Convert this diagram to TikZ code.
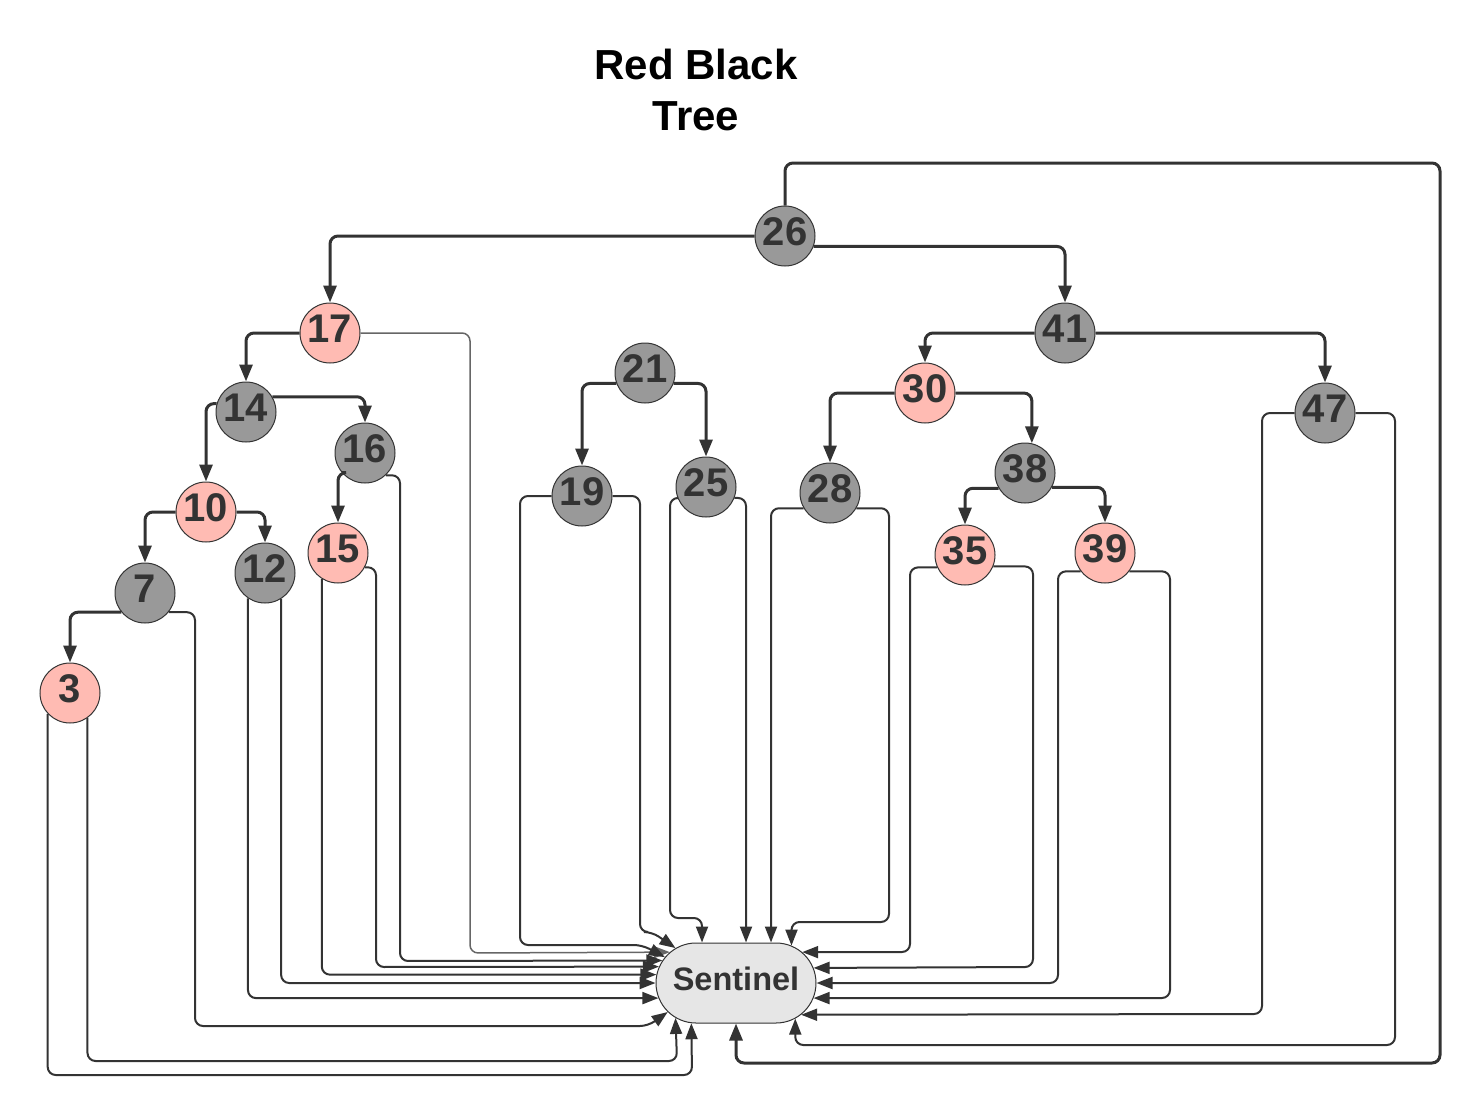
\documentclass[tikz,border=0pt]{standalone}
\usepackage{fontspec}
\setmainfont{Liberation Sans}
\usetikzlibrary{arrows.meta,shapes.misc,calc}
\definecolor{ink}{HTML}{333333}
\definecolor{gnode}{HTML}{999999}
\definecolor{rnode}{HTML}{FFBBB3}
\definecolor{sent}{HTML}{E6E6E6}
\definecolor{thinln}{HTML}{666666}
\begin{document}
\begin{tikzpicture}[x=1pt,y=-1pt,
  nd/.style={circle,draw=ink,line width=1pt,minimum size=60pt,inner sep=0pt,text=ink,
    font=\fontsize{40}{40}\selectfont\bfseries,text height=28pt,text depth=9pt},
  gn/.style={nd,fill=gnode},
  rn/.style={nd,fill=rnode},
  tedge/.style={draw=ink,line width=3pt,rounded corners=8pt,-{Triangle[length=17pt,width=13pt]}},
  ledge/.style={draw=ink,line width=2pt,rounded corners=8pt,-{Triangle[length=16pt,width=12pt]}},
  ttl/.style={align=center,text=black,font=\fontsize{42}{51}\selectfont\bfseries}
]
\useasboundingbox (0,0) rectangle (1480,1116);

\node[ttl] (title) at (696,90) {Red Black\\Tree};

\node[rounded rectangle,draw=ink,line width=1pt,fill=sent,minimum width=160pt,minimum height=80pt,
  inner sep=0pt,text=ink,font=\fontsize{32.5}{32.5}\selectfont\bfseries,text height=23pt,text depth=8pt]
  (S) at (736,983) {\makebox[0pt]{Sentinel}};

\node[gn] (n26) at (785,236) {26};
\node[rn] (n17) at (330,333) {17};
\node[gn] (n41) at (1065,333) {41};
\node[gn] (n14) at (246,412) {14};
\node[gn] (n16) at (365,453) {16};
\node[rn] (n10) at (206,512) {10};
\node[gn] (n12) at (265,573) {12};
\node[rn] (n15) at (338,553) {15};
\node[gn] (n7) at (145,593) {7};
\node[rn] (n3) at (70,693) {3};
\node[gn] (n21) at (645,373) {21};
\node[gn] (n19) at (582,496) {19};
\node[gn] (n25) at (706,487) {25};
\node[gn] (n28) at (830,493) {28};
\node[rn] (n30) at (925,393) {30};
\node[gn] (n38) at (1025,473) {38};
\node[rn] (n35) at (965,555) {35};
\node[rn] (n39) at (1105,553) {39};
\node[gn] (n47) at (1325,413) {47};

% tree edges
\draw[tedge] (n26.west) -| (n17.north);
\draw[tedge] (n26.340) -| (n41.north);
\draw[tedge] (n17.west) -| (n14.north);
\draw[tedge] (n14.164) -| (n10.north);
\draw[tedge] (n14.30) -| (n16.north);
\draw[tedge] (n10.west) -| (n7.north);
\draw[tedge] (n10.east) -| (n12.north);
\draw[tedge] (n16.220) -| (n15.north);
\draw[tedge] (n7.219) -| (n3.north);
\draw[tedge] (n21.200) -| (n19.north);
\draw[tedge] (n21.340) -| (n25.north);
\draw[tedge] (n41.west) -| (n30.north);
\draw[tedge] (n41.east) -| (n47.north);
\draw[tedge] (n30.west) -| (n28.north);
\draw[tedge] (n30.east) -| (n38.77);
\draw[tedge] (n38.210) -| (n35.north);
\draw[tedge] (n38.332) -| (n39.north);
\draw[tedge] (n26.north) |- (1440,163) -- (1440,1063) -| (S.south);

% sentinel links, left
\draw[ledge,draw=thinln,line width=1.5pt] (n17.east) -| (470,953) -- (S.155.7);
\draw[ledge] (n16.313) -| (400,961) -- (S.163.3);
\draw[ledge] (n15.332) -| (376,967) -- (S.168.2);
\draw[ledge] (n15.238) |- (S.174.2);
\draw[ledge] (n12.302) |- (S.180);
\draw[ledge] (n12.236) |- (S.191.8);
\draw[ledge] (n7.321) -| (195,1026) -- (648,1026) -- (S.203);
\draw[ledge] (n3.223) |- (692,1075) -- (S.222.1);
\draw[ledge] (n3.305) |- (677,1061) -- (S.210.8);
% middle
\draw[ledge] (n19.west) -| (520,945) -- (642,945) -- (S.160);
\draw[ledge] (n19.east) -| (640,932) -- (652,932) -- (S.150);
\draw[ledge] (n25.201) -| (670,918) -| ($(S.north)+(-34,0)$);
\draw[ledge] (n25.339) -| ($(S.north)+(10,0)$);
\draw[ledge] (n28.210) -| ($(S.north)+(35,0)$);
\draw[ledge] (n28.330) -| (889,922) -| (S.34);
% right
\draw[ledge] (n35.204) -| (910,952) -- (S.25.4);
\draw[ledge] (n35.338) -| (1033,967) -- (S.11.8);
\draw[ledge] (n39.217) -| (1058,983) -- (S.0);
\draw[ledge] (n39.323) -| (1170,998) -- (S.349);
\draw[ledge] (n47.west) -| (1262,1014) -- (S.334.6);
\draw[ledge] (n47.east) -| (1395,1045) -| (S.329.2);
\end{tikzpicture}
\end{document}
